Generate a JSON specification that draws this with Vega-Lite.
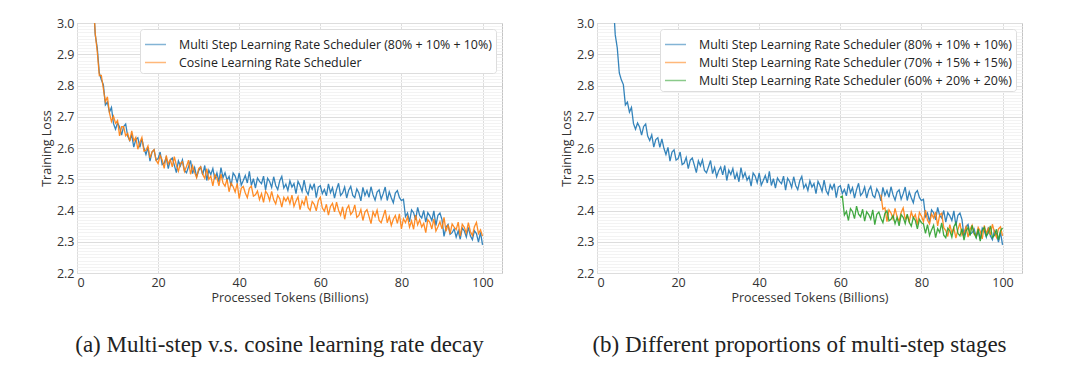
{
"$schema": "https://vega.github.io/schema/vega-lite/v6.json",
"background": "white",
"padding": {"left": 39, "top": 16, "right": 0, "bottom": 0},
"spacing": 56,
"config": {
  "font": "Open Sans",
  "view": {"stroke": "#c4c4c4", "strokeWidth": 1},
  "axis": {"labelFont": "Open Sans", "labelFontSize": 12.5, "labelColor": "#333333", "titleFont": "Open Sans", "titleFontSize": 12.5, "titleFontWeight": "normal", "titleColor": "#333333", "ticks": false, "domain": false, "gridColor": "#dddddd", "gridWidth": 1},
  "legend": {"orient": "top-right", "offset": 6, "labelFont": "Open Sans", "labelFontSize": 12.4, "labelColor": "#222222", "labelLimit": 0, "symbolType": "stroke", "symbolSize": 441, "symbolStrokeWidth": 1.5, "symbolOpacity": 0.55, "labelOffset": 12, "strokeColor": "#dddddd", "fillColor": "white", "cornerRadius": 3, "padding": 4, "rowPadding": -2},
  "title": {"font": "Liberation Serif", "fontSize": 23, "fontWeight": "normal", "color": "#222222", "orient": "bottom", "offset": 30}
},
"resolve": {"scale": {"color": "independent"}},
"datasets": {
"ms80": [
{"x":4,"y":3.072},{"x":4.5,"y":2.962},{"x":5,"y":2.920},{"x":5.5,"y":2.840},{"x":6,"y":2.818},{"x":6.5,"y":2.803},{"x":7,"y":2.738},{"x":7.5,"y":2.747},{"x":8,"y":2.715},{"x":8.5,"y":2.730},{"x":9,"y":2.678},{"x":9.5,"y":2.660},{"x":10,"y":2.680},{"x":10.5,"y":2.667},{"x":11,"y":2.641},{"x":11.5,"y":2.669},{"x":12,"y":2.677},{"x":12.5,"y":2.638},{"x":13,"y":2.624},{"x":13.5,"y":2.642},{"x":14,"y":2.603},{"x":14.5,"y":2.627},{"x":15,"y":2.633},{"x":15.5,"y":2.602},{"x":16,"y":2.629},{"x":16.5,"y":2.599},{"x":17,"y":2.579},{"x":17.5,"y":2.602},{"x":18,"y":2.558},{"x":18.5,"y":2.587},{"x":19,"y":2.594},{"x":19.5,"y":2.561},{"x":20,"y":2.566},
{"x":20.5,"y":2.587},{"x":21,"y":2.547},{"x":21.5,"y":2.552},{"x":22,"y":2.570},{"x":22.5,"y":2.534},{"x":23,"y":2.561},{"x":23.5,"y":2.568},{"x":24,"y":2.545},{"x":24.5,"y":2.521},{"x":25,"y":2.559},{"x":25.5,"y":2.543},{"x":26,"y":2.562},{"x":26.5,"y":2.528},{"x":27,"y":2.521},{"x":27.5,"y":2.540},{"x":28,"y":2.560},{"x":28.5,"y":2.518},{"x":29,"y":2.538},{"x":29.5,"y":2.508},{"x":30,"y":2.527},
{"x":30.5,"y":2.539},{"x":31,"y":2.514},{"x":31.5,"y":2.544},{"x":32,"y":2.496},{"x":32.5,"y":2.529},{"x":33,"y":2.515},{"x":33.5,"y":2.534},{"x":34,"y":2.500},{"x":34.5,"y":2.520},{"x":35,"y":2.492},{"x":35.5,"y":2.537},{"x":36,"y":2.505},{"x":36.5,"y":2.521},{"x":37,"y":2.497},{"x":37.5,"y":2.509},{"x":38,"y":2.478},{"x":38.5,"y":2.520},{"x":39,"y":2.510},{"x":39.5,"y":2.489},{"x":40,"y":2.520},
{"x":40.5,"y":2.481},{"x":41,"y":2.496},{"x":41.5,"y":2.512},{"x":42,"y":2.488},{"x":42.5,"y":2.525},{"x":43,"y":2.480},{"x":43.5,"y":2.502},{"x":44,"y":2.472},{"x":44.5,"y":2.504},{"x":45,"y":2.493},{"x":45.5,"y":2.486},{"x":46,"y":2.510},{"x":46.5,"y":2.465},{"x":47,"y":2.503},{"x":47.5,"y":2.493},{"x":48,"y":2.474},{"x":48.5,"y":2.508},{"x":49,"y":2.480},{"x":49.5,"y":2.467},{"x":50,"y":2.495},
{"x":50.5,"y":2.509},{"x":51,"y":2.472},{"x":51.5,"y":2.484},{"x":52,"y":2.464},{"x":52.5,"y":2.495},{"x":53,"y":2.475},{"x":53.5,"y":2.486},{"x":54,"y":2.454},{"x":54.5,"y":2.493},{"x":55,"y":2.480},{"x":55.5,"y":2.461},{"x":56,"y":2.497},{"x":56.5,"y":2.464},{"x":57,"y":2.451},{"x":57.5,"y":2.482},{"x":58,"y":2.468},{"x":58.5,"y":2.486},{"x":59,"y":2.441},{"x":59.5,"y":2.475},{"x":60,"y":2.479},
{"x":60.5,"y":2.454},{"x":61,"y":2.467},{"x":61.5,"y":2.447},{"x":62,"y":2.485},{"x":62.5,"y":2.457},{"x":63,"y":2.473},{"x":63.5,"y":2.440},{"x":64,"y":2.467},{"x":64.5,"y":2.487},{"x":65,"y":2.448},{"x":65.5,"y":2.456},{"x":66,"y":2.475},{"x":66.5,"y":2.440},{"x":67,"y":2.465},{"x":67.5,"y":2.477},{"x":68,"y":2.448},{"x":68.5,"y":2.441},{"x":69,"y":2.469},{"x":69.5,"y":2.456},{"x":70,"y":2.431},
{"x":70.5,"y":2.474},{"x":71,"y":2.448},{"x":71.5,"y":2.464},{"x":72,"y":2.442},{"x":72.5,"y":2.476},{"x":73,"y":2.450},{"x":73.5,"y":2.433},{"x":74,"y":2.459},{"x":74.5,"y":2.466},{"x":75,"y":2.436},{"x":75.5,"y":2.454},{"x":76,"y":2.475},{"x":76.5,"y":2.432},{"x":77,"y":2.460},{"x":77.5,"y":2.441},{"x":78,"y":2.425},{"x":78.5,"y":2.456},{"x":79,"y":2.464},{"x":79.5,"y":2.442},{"x":80,"y":2.432},
{"x":80.5,"y":2.436},{"x":81,"y":2.380},{"x":81.5,"y":2.392},{"x":82,"y":2.364},{"x":82.5,"y":2.402},{"x":83,"y":2.393},{"x":83.5,"y":2.370},{"x":84,"y":2.410},{"x":84.5,"y":2.384},{"x":85,"y":2.376},{"x":85.5,"y":2.400},{"x":86,"y":2.363},{"x":86.5,"y":2.393},{"x":87,"y":2.383},{"x":87.5,"y":2.368},{"x":88,"y":2.399},{"x":88.5,"y":2.352},{"x":89,"y":2.385},{"x":89.5,"y":2.392},{"x":90,"y":2.371},
{"x":90.5,"y":2.317},{"x":91,"y":2.347},{"x":91.5,"y":2.355},{"x":92,"y":2.324},{"x":92.5,"y":2.329},{"x":93,"y":2.341},{"x":93.5,"y":2.315},{"x":94,"y":2.335},{"x":94.5,"y":2.308},{"x":95,"y":2.344},{"x":95.5,"y":2.335},{"x":96,"y":2.315},{"x":96.5,"y":2.346},{"x":97,"y":2.319},{"x":97.5,"y":2.307},{"x":98,"y":2.335},{"x":98.5,"y":2.326},{"x":99,"y":2.299},{"x":99.5,"y":2.330},{"x":100,"y":2.290}
],
"cos": [
{"x":4,"y":3.075},{"x":4.5,"y":2.966},{"x":5,"y":2.908},{"x":5.5,"y":2.832},{"x":6,"y":2.832},{"x":6.5,"y":2.790},{"x":7,"y":2.747},{"x":7.5,"y":2.764},{"x":8,"y":2.712},{"x":8.5,"y":2.685},{"x":9,"y":2.702},{"x":9.5,"y":2.679},{"x":10,"y":2.688},{"x":10.5,"y":2.639},{"x":11,"y":2.668},{"x":11.5,"y":2.668},{"x":12,"y":2.639},{"x":12.5,"y":2.647},{"x":13,"y":2.622},{"x":13.5,"y":2.655},{"x":14,"y":2.623},{"x":14.5,"y":2.634},{"x":15,"y":2.596},{"x":15.5,"y":2.618},{"x":16,"y":2.634},{"x":16.5,"y":2.590},{"x":17,"y":2.593},{"x":17.5,"y":2.607},{"x":18,"y":2.568},{"x":18.5,"y":2.588},{"x":19,"y":2.595},{"x":19.5,"y":2.561},{"x":20,"y":2.550},
{"x":20.5,"y":2.576},{"x":21,"y":2.562},{"x":21.5,"y":2.535},{"x":22,"y":2.576},{"x":22.5,"y":2.549},{"x":23,"y":2.563},{"x":23.5,"y":2.540},{"x":24,"y":2.572},{"x":24.5,"y":2.545},{"x":25,"y":2.526},{"x":25.5,"y":2.551},{"x":26,"y":2.556},{"x":26.5,"y":2.525},{"x":27,"y":2.541},{"x":27.5,"y":2.561},{"x":28,"y":2.516},{"x":28.5,"y":2.543},{"x":29,"y":2.522},{"x":29.5,"y":2.505},{"x":30,"y":2.534},
{"x":30.5,"y":2.540},{"x":31,"y":2.515},{"x":31.5,"y":2.503},{"x":32,"y":2.534},{"x":32.5,"y":2.500},{"x":33,"y":2.510},{"x":33.5,"y":2.479},{"x":34,"y":2.515},{"x":34.5,"y":2.504},{"x":35,"y":2.479},{"x":35.5,"y":2.516},{"x":36,"y":2.488},{"x":36.5,"y":2.478},{"x":37,"y":2.500},{"x":37.5,"y":2.460},{"x":38,"y":2.488},{"x":38.5,"y":2.476},{"x":39,"y":2.459},{"x":39.5,"y":2.487},{"x":40,"y":2.438},
{"x":40.5,"y":2.471},{"x":41,"y":2.477},{"x":41.5,"y":2.456},{"x":42,"y":2.441},{"x":42.5,"y":2.471},{"x":43,"y":2.478},{"x":43.5,"y":2.446},{"x":44,"y":2.450},{"x":44.5,"y":2.462},{"x":45,"y":2.435},{"x":45.5,"y":2.454},{"x":46,"y":2.426},{"x":46.5,"y":2.462},{"x":47,"y":2.452},{"x":47.5,"y":2.432},{"x":48,"y":2.461},{"x":48.5,"y":2.434},{"x":49,"y":2.421},{"x":49.5,"y":2.449},{"x":50,"y":2.438},
{"x":50.5,"y":2.411},{"x":51,"y":2.442},{"x":51.5,"y":2.430},{"x":52,"y":2.443},{"x":52.5,"y":2.422},{"x":53,"y":2.449},{"x":53.5,"y":2.413},{"x":54,"y":2.430},{"x":54.5,"y":2.444},{"x":55,"y":2.403},{"x":55.5,"y":2.431},{"x":56,"y":2.418},{"x":56.5,"y":2.447},{"x":57,"y":2.409},{"x":57.5,"y":2.400},{"x":58,"y":2.429},{"x":58.5,"y":2.420},{"x":59,"y":2.399},{"x":59.5,"y":2.431},{"x":60,"y":2.443},
{"x":60.5,"y":2.408},{"x":61,"y":2.398},{"x":61.5,"y":2.420},{"x":62,"y":2.385},{"x":62.5,"y":2.413},{"x":63,"y":2.423},{"x":63.5,"y":2.396},{"x":64,"y":2.427},{"x":64.5,"y":2.401},{"x":65,"y":2.385},{"x":65.5,"y":2.412},{"x":66,"y":2.372},{"x":66.5,"y":2.405},{"x":67,"y":2.416},{"x":67.5,"y":2.387},{"x":68,"y":2.396},{"x":68.5,"y":2.418},{"x":69,"y":2.378},{"x":69.5,"y":2.384},{"x":70,"y":2.403},
{"x":70.5,"y":2.368},{"x":71,"y":2.395},{"x":71.5,"y":2.403},{"x":72,"y":2.381},{"x":72.5,"y":2.358},{"x":73,"y":2.396},{"x":73.5,"y":2.381},{"x":74,"y":2.401},{"x":74.5,"y":2.368},{"x":75,"y":2.361},{"x":75.5,"y":2.381},{"x":76,"y":2.402},{"x":76.5,"y":2.361},{"x":77,"y":2.381},{"x":77.5,"y":2.352},{"x":78,"y":2.372},{"x":78.5,"y":2.384},{"x":79,"y":2.359},{"x":79.5,"y":2.389},{"x":80,"y":2.341},
{"x":80.5,"y":2.374},{"x":81,"y":2.361},{"x":81.5,"y":2.380},{"x":82,"y":2.347},{"x":82.5,"y":2.367},{"x":83,"y":2.340},{"x":83.5,"y":2.385},{"x":84,"y":2.354},{"x":84.5,"y":2.370},{"x":85,"y":2.347},{"x":85.5,"y":2.359},{"x":86,"y":2.329},{"x":86.5,"y":2.371},{"x":87,"y":2.362},{"x":87.5,"y":2.341},{"x":88,"y":2.373},{"x":88.5,"y":2.334},{"x":89,"y":2.348},{"x":89.5,"y":2.364},{"x":90,"y":2.341},
{"x":90.5,"y":2.378},{"x":91,"y":2.333},{"x":91.5,"y":2.355},{"x":92,"y":2.325},{"x":92.5,"y":2.357},{"x":93,"y":2.347},{"x":93.5,"y":2.339},{"x":94,"y":2.363},{"x":94.5,"y":2.318},{"x":95,"y":2.356},{"x":95.5,"y":2.346},{"x":96,"y":2.327},{"x":96.5,"y":2.361},{"x":97,"y":2.333},{"x":97.5,"y":2.320},{"x":98,"y":2.348},{"x":98.5,"y":2.362},{"x":99,"y":2.326},{"x":99.5,"y":2.338},{"x":100,"y":2.318}
],
"ms70": [
{"x":70,"y":2.451},{"x":70.5,"y":2.404},{"x":71,"y":2.409},{"x":71.5,"y":2.364},{"x":72,"y":2.402},{"x":72.5,"y":2.392},{"x":73,"y":2.373},{"x":73.5,"y":2.407},{"x":74,"y":2.379},{"x":74.5,"y":2.366},{"x":75,"y":2.394},{"x":75.5,"y":2.408},{"x":76,"y":2.372},{"x":76.5,"y":2.384},{"x":77,"y":2.364},{"x":77.5,"y":2.395},{"x":78,"y":2.376},{"x":78.5,"y":2.387},{"x":79,"y":2.355},{"x":79.5,"y":2.394},{"x":80,"y":2.382},
{"x":80.5,"y":2.364},{"x":81,"y":2.401},{"x":81.5,"y":2.369},{"x":82,"y":2.357},{"x":82.5,"y":2.389},{"x":83,"y":2.376},{"x":83.5,"y":2.395},{"x":84,"y":2.351},{"x":84.5,"y":2.386},{"x":85,"y":2.391},{"x":85.5,"y":2.345},{"x":86,"y":2.336},{"x":86.5,"y":2.317},{"x":87,"y":2.355},{"x":87.5,"y":2.328},{"x":88,"y":2.344},{"x":88.5,"y":2.312},{"x":89,"y":2.339},{"x":89.5,"y":2.360},{"x":90,"y":2.321},
{"x":90.5,"y":2.330},{"x":91,"y":2.349},{"x":91.5,"y":2.315},{"x":92,"y":2.340},{"x":92.5,"y":2.353},{"x":93,"y":2.324},{"x":93.5,"y":2.318},{"x":94,"y":2.346},{"x":94.5,"y":2.334},{"x":95,"y":2.309},{"x":95.5,"y":2.352},{"x":96,"y":2.327},{"x":96.5,"y":2.343},{"x":97,"y":2.322},{"x":97.5,"y":2.356},{"x":98,"y":2.331},{"x":98.5,"y":2.314},{"x":99,"y":2.341},{"x":99.5,"y":2.348},{"x":100,"y":2.319}
],
"ms60": [
{"x":60,"y":2.442},{"x":60.5,"y":2.446},{"x":61,"y":2.385},{"x":61.5,"y":2.397},{"x":62,"y":2.368},{"x":62.5,"y":2.406},{"x":63,"y":2.397},{"x":63.5,"y":2.374},{"x":64,"y":2.414},{"x":64.5,"y":2.388},{"x":65,"y":2.380},{"x":65.5,"y":2.404},{"x":66,"y":2.366},{"x":66.5,"y":2.396},{"x":67,"y":2.387},{"x":67.5,"y":2.372},{"x":68,"y":2.402},{"x":68.5,"y":2.355},{"x":69,"y":2.388},{"x":69.5,"y":2.395},{"x":70,"y":2.375},
{"x":70.5,"y":2.361},{"x":71,"y":2.391},{"x":71.5,"y":2.399},{"x":72,"y":2.367},{"x":72.5,"y":2.372},{"x":73,"y":2.384},{"x":73.5,"y":2.358},{"x":74,"y":2.378},{"x":74.5,"y":2.351},{"x":75,"y":2.387},{"x":75.5,"y":2.378},{"x":76,"y":2.358},{"x":76.5,"y":2.388},{"x":77,"y":2.362},{"x":77.5,"y":2.350},{"x":78,"y":2.378},{"x":78.5,"y":2.368},{"x":79,"y":2.341},{"x":79.5,"y":2.372},{"x":80,"y":2.361},
{"x":80.5,"y":2.357},{"x":81,"y":2.327},{"x":81.5,"y":2.355},{"x":82,"y":2.320},{"x":82.5,"y":2.338},{"x":83,"y":2.353},{"x":83.5,"y":2.313},{"x":84,"y":2.342},{"x":84.5,"y":2.330},{"x":85,"y":2.360},{"x":85.5,"y":2.321},{"x":86,"y":2.313},{"x":86.5,"y":2.343},{"x":87,"y":2.335},{"x":87.5,"y":2.315},{"x":88,"y":2.348},{"x":88.5,"y":2.361},{"x":89,"y":2.327},{"x":89.5,"y":2.319},{"x":90,"y":2.342},
{"x":90.5,"y":2.305},{"x":91,"y":2.334},{"x":91.5,"y":2.346},{"x":92,"y":2.320},{"x":92.5,"y":2.352},{"x":93,"y":2.327},{"x":93.5,"y":2.313},{"x":94,"y":2.341},{"x":94.5,"y":2.302},{"x":95,"y":2.336},{"x":95.5,"y":2.346},{"x":96,"y":2.318},{"x":96.5,"y":2.328},{"x":97,"y":2.351},{"x":97.5,"y":2.313},{"x":98,"y":2.320},{"x":98.5,"y":2.340},{"x":99,"y":2.306},{"x":99.5,"y":2.335},{"x":100,"y":2.344}
]
},
"hconcat": [
{
  "width": 425, "height": 250,
  "title": {"text": "(a) Multi-step v.s. cosine learning rate decay", "dx": -10},
  "encoding": {
    "x": {"field": "x", "type": "quantitative", "scale": {"domain": [0, 104.8], "nice": false, "zero": false}, "axis": {"values": [0, 20, 40, 60, 80, 100], "title": "Processed Tokens (Billions)", "labelPadding": 3, "titlePadding": 3}},
    "y": {"field": "y", "type": "quantitative", "scale": {"domain": [2.2, 3.0], "nice": false, "zero": false}, "axis": {"title": "Training Loss", "titlePadding": 3, "labelPadding": 3, "labelOverlap": false, "values": [2.2,2.21,2.22,2.23,2.24,2.25,2.26,2.27,2.28,2.29,2.3,2.31,2.32,2.33,2.34,2.35,2.36,2.37,2.38,2.39,2.4,2.41,2.42,2.43,2.44,2.45,2.46,2.47,2.48,2.49,2.5,2.51,2.52,2.53,2.54,2.55,2.56,2.57,2.58,2.59,2.6,2.61,2.62,2.63,2.64,2.65,2.66,2.67,2.68,2.69,2.7,2.71,2.72,2.73,2.74,2.75,2.76,2.77,2.78,2.79,2.8,2.81,2.82,2.83,2.84,2.85,2.86,2.87,2.88,2.89,2.9,2.91,2.92,2.93,2.94,2.95,2.96,2.97,2.98,2.99,3.0], "labelExpr": "abs(datum.value*10 - round(datum.value*10)) < 0.001 ? format(datum.value, '.1f') : ''", "gridColor": {"condition": {"test": "abs(datum.value*10 - round(datum.value*10)) < 0.001", "value": "#dddddd"}, "value": "#f3f3f3"}}}
  },
  "layer": [
    {"data": {"name": "ms80"}, "mark": {"type": "line", "strokeWidth": 1.3, "clip": true, "opacity": 0.9},
     "encoding": {"color": {"datum": "Multi Step Learning Rate Scheduler (80% + 10% + 10%)", "type": "nominal", "scale": {"domain": ["Multi Step Learning Rate Scheduler (80% + 10% + 10%)", "Cosine Learning Rate Scheduler"], "range": ["#1f77b4", "#ff7f0e"]}, "legend": {"title": null}}}},
    {"data": {"name": "cos"}, "mark": {"type": "line", "strokeWidth": 1.3, "clip": true, "opacity": 0.9},
     "encoding": {"color": {"datum": "Cosine Learning Rate Scheduler", "type": "nominal"}}}
  ]
},
{
  "width": 425, "height": 250,
  "title": {"text": "(b) Different proportions of multi-step stages", "dx": -10},
  "encoding": {
    "x": {"field": "x", "type": "quantitative", "scale": {"domain": [0, 104.8], "nice": false, "zero": false}, "axis": {"values": [0, 20, 40, 60, 80, 100], "title": "Processed Tokens (Billions)", "labelPadding": 3, "titlePadding": 3}},
    "y": {"field": "y", "type": "quantitative", "scale": {"domain": [2.2, 3.0], "nice": false, "zero": false}, "axis": {"title": "Training Loss", "titlePadding": 3, "labelPadding": 3, "labelOverlap": false, "values": [2.2,2.21,2.22,2.23,2.24,2.25,2.26,2.27,2.28,2.29,2.3,2.31,2.32,2.33,2.34,2.35,2.36,2.37,2.38,2.39,2.4,2.41,2.42,2.43,2.44,2.45,2.46,2.47,2.48,2.49,2.5,2.51,2.52,2.53,2.54,2.55,2.56,2.57,2.58,2.59,2.6,2.61,2.62,2.63,2.64,2.65,2.66,2.67,2.68,2.69,2.7,2.71,2.72,2.73,2.74,2.75,2.76,2.77,2.78,2.79,2.8,2.81,2.82,2.83,2.84,2.85,2.86,2.87,2.88,2.89,2.9,2.91,2.92,2.93,2.94,2.95,2.96,2.97,2.98,2.99,3.0], "labelExpr": "abs(datum.value*10 - round(datum.value*10)) < 0.001 ? format(datum.value, '.1f') : ''", "gridColor": {"condition": {"test": "abs(datum.value*10 - round(datum.value*10)) < 0.001", "value": "#dddddd"}, "value": "#f3f3f3"}}}
  },
  "layer": [
    {"data": {"name": "ms80"}, "mark": {"type": "line", "strokeWidth": 1.3, "clip": true, "opacity": 0.9},
     "encoding": {"color": {"datum": "Multi Step Learning Rate Scheduler (80% + 10% + 10%)", "type": "nominal", "scale": {"domain": ["Multi Step Learning Rate Scheduler (80% + 10% + 10%)", "Multi Step Learning Rate Scheduler (70% + 15% + 15%)", "Multi Step Learning Rate Scheduler (60% + 20% + 20%)"], "range": ["#1f77b4", "#ff7f0e", "#2ca02c"]}, "legend": {"title": null}}}},
    {"data": {"name": "ms70"}, "mark": {"type": "line", "strokeWidth": 1.3, "clip": true, "opacity": 0.9},
     "encoding": {"color": {"datum": "Multi Step Learning Rate Scheduler (70% + 15% + 15%)", "type": "nominal"}}},
    {"data": {"name": "ms60"}, "mark": {"type": "line", "strokeWidth": 1.3, "clip": true, "opacity": 0.9},
     "encoding": {"color": {"datum": "Multi Step Learning Rate Scheduler (60% + 20% + 20%)", "type": "nominal"}}}
  ]
}
]
}
